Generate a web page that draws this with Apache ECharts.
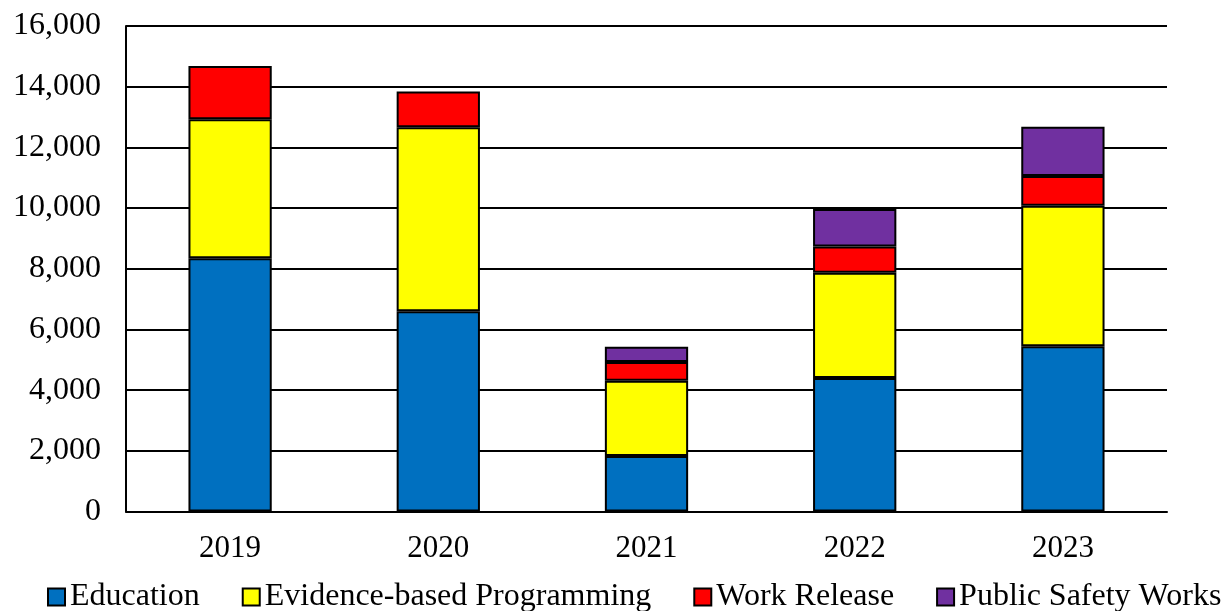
<!DOCTYPE html>
<html>
<head>
<meta charset="utf-8">
<script src="https://cdn.jsdelivr.net/npm/echarts@6/dist/echarts.min.js"></script>
<style>
  html, body { margin: 0; padding: 0; background: #fff; }
  #chart { width: 1225px; height: 611px; }
</style>
</head>
<body>
<div id="chart"></div>
<script>
// Program participation by year, stacked by program type
const years = ['2019', '2020', '2021', '2022', '2023'];
const education = [8350, 6600, 1830, 4400, 5450];
const evidenceBased = [4580, 6060, 2480, 3470, 4630];
const workRelease = [1750, 1180, 620, 860, 980];
const publicSafetyWorks = [0, 0, 500, 1240, 1620];

const seriesNames = ['Education', 'Evidence-based Programming', 'Work Release', 'Public Safety Works'];
const seriesColors = ['#0070C0', '#FFFF00', '#FF0000', '#7030A0'];
const seriesValues = [education, evidenceBased, workRelease, publicSafetyWorks];

const fontFamily = '"Liberation Serif", "Times New Roman", serif';

const chart = echarts.init(document.getElementById('chart'), null, { renderer: 'canvas' });

chart.setOption({
  animation: false,
  backgroundColor: '#ffffff',
  grid: { left: 126, right: 58, top: 26, bottom: 99.5, containLabel: false },
  legend: {
    top: 581,
    left: 47,
    padding: 0,
    itemWidth: 17,
    itemHeight: 17,
    itemGap: 42,
    icon: 'rect',
    textStyle: { fontFamily, fontSize: 32, color: '#000' },
    itemStyle: { borderColor: '#000', borderWidth: 2 },
    data: seriesNames
  },
  xAxis: {
    type: 'category',
    data: years,
    axisLine: { show: true, lineStyle: { color: '#000', width: 2 } },
    axisTick: { show: false },
    axisLabel: { fontFamily, fontSize: 31, color: '#000', margin: 22 }
  },
  yAxis: {
    type: 'value',
    min: 0,
    max: 16000,
    interval: 2000,
    axisLine: { show: true, lineStyle: { color: '#000', width: 2 } },
    axisTick: { show: false },
    splitLine: { show: true, lineStyle: { color: '#000', width: 2 } },
    axisLabel: {
      fontFamily, fontSize: 32, color: '#000', margin: 25,
      formatter: v => v.toLocaleString('en-US')
    }
  },
  series: seriesNames.map((name, i) => ({
    name,
    type: 'bar',
    stack: 'total',
    barWidth: '40%',
    data: seriesValues[i].map(v => (v === 0 ? null : v)),
    itemStyle: { color: seriesColors[i], borderColor: '#000', borderWidth: 2 }
  }))
});
</script>
</body>
</html>
